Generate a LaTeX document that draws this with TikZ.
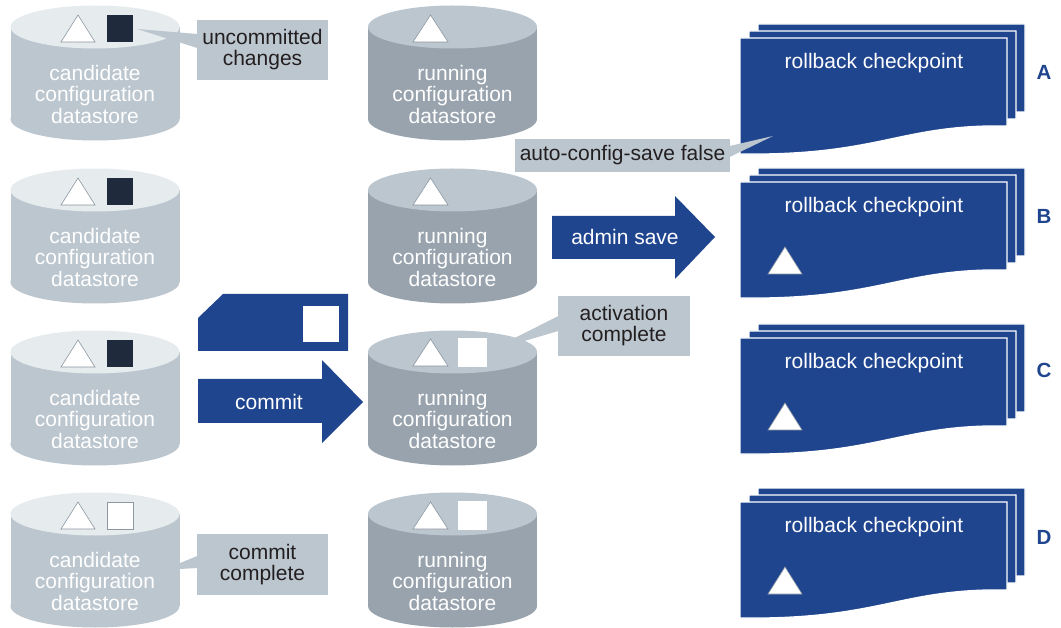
\documentclass[tikz,border=0pt]{standalone}
\usepackage{fontspec}
\setmainfont{Liberation Sans}
\usetikzlibrary{calc}
\definecolor{candtop}{HTML}{E6EBEE}
\definecolor{candbody}{HTML}{BCC6CF}
\definecolor{runtop}{HTML}{BCC6CF}
\definecolor{runbody}{HTML}{98A3AE}
\definecolor{callgray}{HTML}{BCC6CF}
\definecolor{rbblue}{HTML}{20458F}
\definecolor{darksq}{HTML}{1F2A3D}
\definecolor{txtdark}{HTML}{231F20}
\definecolor{outl}{HTML}{8C97A1}
\newcommand{\dbcyl}[4]{% cx, top, topcolor, bodycolor
  \fill[#4] ({#1-84.5},{#2+22}) rectangle ({#1+84.5},{#2+114});
  \fill[#4] (#1,{#2+114}) ellipse [x radius=84.5pt, y radius=21.5pt];
  \fill[#3] (#1,{#2+22}) ellipse [x radius=84.5pt, y radius=21.5pt];
}
\newcommand{\rbpath}[2]{(#1,#2) -- ({#1+267},#2) -- ({#1+267},{#2+88}) .. controls ({#1+160},{#2+86}) and ({#1+140},{#2+118}) .. (#1,{#2+116}) -- cycle}
\newcommand{\rbstack}[1]{% top of front page
  \filldraw[pagestyle] \rbpath{758}{#1-14};
  \filldraw[pagestyle] \rbpath{749}{#1-7};
  \filldraw[pagestyle] \rbpath{740}{#1};
}
\newcommand{\tri}[3]{% left x, base y, width
  \filldraw[tristyle] (#1,#2) -- ({#1+#3},#2) -- ({#1+#3/2},{#2-27}) -- cycle;
}
\begin{document}
\begin{tikzpicture}[x=1pt,y=-1pt,
  dbtext/.style={text=white, align=center, font=\fontsize{21}{21.5}\selectfont, inner sep=0pt},
  calltext/.style={fill=callgray, text=txtdark, align=center, font=\fontsize{21}{21}\selectfont, inner sep=0pt},
  pagestyle/.style={fill=rbblue, draw=white, line width=1.3pt},
  tristyle/.style={fill=white, draw=outl, line width=0.6pt},
  pagetext/.style={text=white, font=\fontsize{21}{21}\selectfont, inner sep=0pt},
  letter/.style={text=rbblue, font=\fontsize{20.5}{20.5}\selectfont\bfseries, inner sep=0pt},
  arrowtext/.style={text=white, font=\fontsize{21}{21}\selectfont, inner sep=0pt},
  bluefill/.style={fill=rbblue}]
\useasboundingbox (0,0) rectangle (1061,628);

% ---------- cylinders ----------
\foreach \T in {5,168,330,492} {
  \dbcyl{95}{\T}{candtop}{candbody}
  \dbcyl{452.5}{\T}{runtop}{runbody}
}
\node[dbtext] (cand1) at (95,94) {candidate\\configuration\\datastore};
\node[dbtext] (cand2) at (95,257) {candidate\\configuration\\datastore};
\node[dbtext] (cand3) at (95,419) {candidate\\configuration\\datastore};
\node[dbtext] (cand4) at (95,581) {candidate\\configuration\\datastore};
\node[dbtext] (run1) at (452.5,94) {running\\configuration\\datastore};
\node[dbtext] (run2) at (452.5,257) {running\\configuration\\datastore};
\node[dbtext] (run3) at (452.5,419) {running\\configuration\\datastore};
\node[dbtext] (run4) at (452.5,581) {running\\configuration\\datastore};

% triangles and squares on cylinders
\tri{61}{42}{34}
\fill[darksq] (107,15) rectangle (133,42);
\tri{61}{205}{34}
\fill[darksq] (107,178) rectangle (133,205);
\tri{61}{367}{34}
\fill[darksq] (107,340) rectangle (133,367);
\tri{61}{529}{34}
\filldraw[tristyle] (107,502) rectangle (133,529);

\tri{413}{42}{35}
\tri{413}{205}{35}
\tri{413}{366}{35}
\filldraw[fill=white, draw=white] (458,338) rectangle (486,366);
\tri{413}{529}{35}
\filldraw[fill=white, draw=white] (458,501) rectangle (486,529);

% ---------- rollback checkpoints ----------
\rbstack{38}
\rbstack{182}
\rbstack{338}
\rbstack{502}
\node[pagetext] (rbA) at (874,63) {rollback checkpoint};
\node[pagetext] (rbB) at (874,207) {rollback checkpoint};
\node[pagetext] (rbC) at (874,363) {rollback checkpoint};
\node[pagetext] (rbD) at (874,527) {rollback checkpoint};
\tri{768}{274}{34}
\tri{768}{430}{34}
\tri{768}{594}{34}
\node[letter] (lA) at (1044,72) {A};
\node[letter] (lB) at (1044,216) {B};
\node[letter] (lC) at (1044,370) {C};
\node[letter] (lD) at (1044,537) {D};

% ---------- arrows and card ----------
\fill[bluefill] (198,379) -- (322,379) -- (322,360) -- (363,402) -- (322,443) -- (322,423) -- (198,423) -- cycle;
\node[arrowtext] (commit) at (269,402) {commit};
\fill[bluefill] (552,216) -- (675,216) -- (675,196) -- (715,237) -- (675,279) -- (675,259) -- (552,259) -- cycle;
\node[arrowtext] (adminsave) at (625,237) {admin save};
\fill[bluefill] (198,318) -- (223,294) -- (348,294) -- (348,351) -- (198,351) -- cycle;
\fill[white] (303,306) rectangle (339,342);

% ---------- callouts ----------
\node[calltext, minimum width=131pt, minimum height=60pt] (uc) at (262.5,50) {uncommitted\\changes};
\coordinate (uctip) at (137,29);
\fill[callgray] ($(uc.west)+(0.5,-16)$) -- (uctip) -- ($(uc.west)+(0.5,-2)$) -- cycle;

\node[calltext, minimum width=132pt, minimum height=60pt] (ac) at (624,326) {activation\\complete};
\coordinate (actip) at (487,352);
\fill[callgray] ($(ac.west)+(0.5,-10)$) -- (actip) -- ($(ac.west)+(0.5,5)$) -- cycle;

\node[calltext, minimum width=131pt, minimum height=61pt] (cc) at (262.5,564.5) {commit\\complete};
\coordinate (cctip) at (163,570);
\fill[callgray] ($(cc.west)+(0.5,-8.5)$) -- (cctip) -- ($(cc.west)+(0.5,3.5)$) -- cycle;

\node[calltext, minimum width=215pt, minimum height=33pt] (as) at (622.5,155.5) {auto-config-save false};
\coordinate (astip) at (773,136);
\fill[callgray] ($(as.east)+(-0.5,-9.5)$) -- (astip) -- ($(as.east)+(-0.5,1.5)$) -- cycle;
\end{tikzpicture}
\end{document}
